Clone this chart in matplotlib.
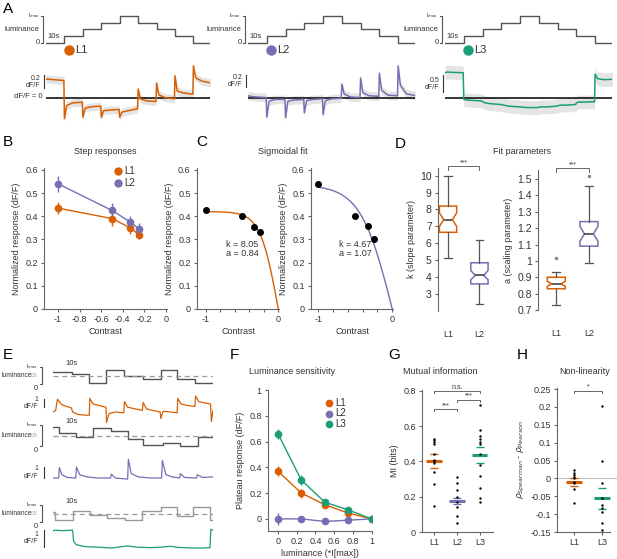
import numpy as np
import matplotlib.pyplot as plt
from matplotlib.lines import Line2D
from matplotlib.ticker import FuncFormatter

plt.rcParams['font.family'] = ['Liberation Sans', 'DejaVu Sans']
plt.rcParams['axes.unicode_minus'] = False

W, H = 617, 559
C1, C2, C3 = '#d95f02', '#7570b3', '#1b9e77'
AXC = '#666666'
TXT = '#333333'

# ---------------- data ----------------
# A: luminance staircase, mean responses (onset / early / mid / end of each step)
stair_edges = [0, 1, 2, 3, 4, 5, 6, 7, 8, 8.9]
stair_lum = [0, 0.25, 0.5, 0.75, 1, 0.75, 0.5, 0.25, 0]
step_frac = [0.0, 0.12, 0.45, 0.97]
a_l1 = [[0.28, 0.28, 0.27, 0.26], [-0.32, -0.12, -0.08, -0.07], [-0.3, -0.16, -0.14, -0.13],
        [-0.3, -0.2, -0.19, -0.18], [-0.3, -0.22, -0.2, -0.17], [0.13, -0.02, -0.05, -0.06],
        [0.22, 0.04, 0.0, -0.02], [0.33, 0.1, 0.07, 0.05], [0.48, 0.3, 0.25, 0.22]]
a_l2 = [[0.03, 0.02, 0.01, 0.0], [-0.32, -0.06, -0.03, -0.03], [-0.33, -0.06, -0.04, -0.03],
        [-0.25, -0.05, -0.03, -0.02], [-0.28, -0.05, -0.02, -0.01], [0.22, 0.06, 0.01, 0.0],
        [0.32, 0.08, 0.03, 0.02], [0.4, 0.12, 0.04, 0.03], [0.52, 0.2, 0.06, 0.03]]
a_l3 = [[0.72, 0.74, 0.73, 0.72], [-0.05, -0.07, -0.08, -0.1], [-0.12, -0.15, -0.18, -0.2],
        [-0.2, -0.22, -0.25, -0.27], [-0.27, -0.28, -0.29, -0.29], [-0.28, -0.27, -0.27, -0.25],
        [-0.24, -0.22, -0.22, -0.2], [-0.15, -0.13, -0.13, -0.12], [0.68, 0.55, 0.52, 0.53]]
a_spread = [0.06, 0.07, 0.2]
a_scale = [0.2, 0.2, 0.5]

# B / C: step responses vs contrast
contrast = [-1, -0.5, -0.33, -0.25]
b_l1 = [0.435, 0.39, 0.35, 0.32]
b_l1_err = [0.025, 0.03, 0.025, 0.02]
b_l2 = [0.54, 0.425, 0.375, 0.345]
b_l2_err = [0.035, 0.03, 0.025, 0.025]
c_l1 = [0.425, 0.40, 0.355, 0.33]
c_l2 = [0.54, 0.40, 0.36, 0.30]
fit_k = [8.05, 4.67]
fit_a = [0.84, 1.07]

# D: fit parameter box stats (whislo, q1, cilo, med, cihi, q3, whishi, fliers)
d_k = [[5.15, 6.65, 7.0, 7.4, 7.8, 8.2, 10.0, []],
       [2.4, 3.6, 3.85, 4.1, 4.4, 4.85, 6.2, []]]
d_a = [[0.73, 0.83, 0.845, 0.86, 0.875, 0.90, 0.93, [1.02]],
       [0.99, 1.09, 1.12, 1.165, 1.21, 1.24, 1.46, [1.52]]]

# E: luminance sequences and responses (time in s)
e1_edges = [0, 10.5, 20.5, 30, 40, 50.5, 60.5, 70, 80, 90]
e1_lum = [0.7, 0.6, 0.05, 0.82, 0.47, 0.3, 0.82, 0.3, 0.05]
e1_t = [0, 1.5, 2.5, 5, 9, 10.4, 11, 14, 18, 20.4, 20.7, 22.5, 26, 29.8, 30.1, 31.5, 35, 39.8,
        40.2, 42, 46, 50.3, 50.7, 52.5, 56, 60.3, 60.6, 62, 66, 69.8, 70.2, 72, 76, 79.8, 80.2,
        82, 86, 88.6, 89.1, 90]
e1_r = [0, 0.2, 1.6, 0.9, 0.6, 0.5, 0.0, -0.3, -0.4, -0.4, 1.7, 1.0, 0.8, 0.6, -1.3, -0.2, 0.0,
        -0.1, 1.3, 0.6, 0.4, 0.2, 1.2, 0.4, 0.2, 0.0, -0.8, 0.1, 0.0, -0.1, 1.7, 1.0, 0.8, 0.7,
        2.0, 1.3, 1.1, 1.0, -1.2, 0.2]
e2_edges = [0, 3.4, 13, 22.6, 32.8, 42.4, 50.8, 61.6, 71.2, 81.4, 90]
e2_lum = [0.9, 0.6, 0.45, 0.85, 0.7, 0.35, 0.05, 0.15, 0.0, 0.45]
e2_t = [0, 3.2, 3.6, 5, 8, 12.8, 13.2, 15, 19, 25, 32.4, 32.8, 35, 42, 42.4, 44, 48, 55, 61.1,
        61.5, 63.5, 67, 71.2, 71.6, 74, 80.8, 81.2, 84, 90]
e2_r = [0, 0, 0.95, 0.3, 0.05, 0.0, 1.0, 0.3, 0.1, 0.0, 0.0, 0.35, 0.0, -0.1, 1.7, 0.4, 0.1, 0.0,
        0.0, 1.6, 0.3, 0.1, 0.0, 0.4, 0.05, 0.0, 0.3, 0.05, 0.1]
e3_edges = [0, 1, 11.3, 20.8, 30.4, 40.5, 50.1, 60.8, 69.8, 78.8, 88.4, 90]
e3_lum = [0.6, 0.1, 0.65, 0.4, 0.25, 0.1, 0.65, 0.9, 0.35, 0.9, 0.1]
e3_t = [0, 1, 5, 11, 11.6, 13, 18, 25, 33, 38, 42, 47, 55, 62, 66, 70, 78, 85, 88.3, 88.8, 90]
e3_r = [1.0, 1.05, 1.02, 1.05, 0.4, 0.2, 0.08, 0.05, 0.0, 0.07, 0.12, 0.05, 0.02, 0.06, 0.1,
        0.04, 0.0, 0.0, 0.02, 1.1, 1.05]

# F: plateau response vs luminance
lum_levels = [0, 0.25, 0.5, 0.75, 1]
f_l1 = [0.37, 0.20, 0.11, 0.045, 0.0]
f_l1_err = [0.04, 0.035, 0.02, 0.015, 0.01]
f_l2 = [0.0, 0.0, -0.02, -0.01, 0.0]
f_l2_err = [0.045, 0.02, 0.015, 0.01, 0.01]
f_l3 = [0.66, 0.30, 0.13, 0.07, 0.0]
f_l3_err = [0.04, 0.04, 0.02, 0.015, 0.01]

# G: mutual information (individual flies, mean, sem)
g_l1 = [0.53, 0.52, 0.51, 0.50, 0.44, 0.41, 0.40, 0.39, 0.34, 0.27, 0.15]
g_l2 = [0.31, 0.28, 0.24, 0.20, 0.17, 0.14, 0.09, 0.05]
g_l3 = [0.72, 0.58, 0.545, 0.53, 0.51, 0.50, 0.44, 0.38, 0.32, 0.25, 0.19, 0.17]
g_mean = [0.40, 0.175, 0.436]
g_sem = [0.04, 0.018, 0.045]

# H: non-linearity
h_l1 = [0.023, 0.016, 0.009, 0.004, 0.0, -0.01, -0.012, -0.03, -0.07]
h_l3 = [0.204, 0.049, -0.014, -0.056, -0.075, -0.082, -0.093, -0.126, -0.145]
h_mean = [-0.009, -0.056]
h_sem = [0.011, 0.029]

# ---------------- helpers ----------------
fig = plt.figure(figsize=(W / 100, H / 100), dpi=100)


def px_axes(x0, y0, x1, y1):
    return fig.add_axes([x0 / W, 1 - y1 / H, (x1 - x0) / W, (y1 - y0) / H])


def ftext(x, y, s, **kw):
    kw.setdefault('fontsize', 6.5)
    kw.setdefault('color', TXT)
    fig.text(x / W, 1 - y / H, s, **kw)


def fdot(x, y, c, ms=6):
    fig.add_artist(Line2D([x / W], [1 - y / H], marker='o', ms=ms, color=c, lw=0,
                          transform=fig.transFigure))


def style(ax, bottom=True):
    for s in ['top', 'right']:
        ax.spines[s].set_visible(False)
    for s in ['left', 'bottom']:
        ax.spines[s].set_color(AXC)
        ax.spines[s].set_linewidth(0.8)
    if not bottom:
        ax.spines['bottom'].set_visible(False)
    ax.tick_params(labelsize=6.5, length=2.5, width=0.8, color=AXC, labelcolor=TXT, pad=2)
    ax.yaxis.set_major_formatter(FuncFormatter(lambda v, p: '%g' % round(v, 3)))
    ax.patch.set_alpha(0)


def bracket(ax, x0, x1, y, h, label, dy):
    ax.plot([x0, x0, x1, x1], [y - h, y, y, y - h], color=AXC, lw=0.7, clip_on=False)
    ax.text((x0 + x1) / 2, y + dy, label, ha='center', va='bottom', fontsize=5, color=TXT)


def step_trace(seg):
    t = [i + f for i in range(len(seg)) for f in step_frac]
    v = [x for s in seg for x in s]
    return np.array(t), np.array(v)


# ---------------- A ----------------
ftext(3, 9, 'A', fontsize=11, color='k', va='center')
cols = [(46, 210, a_l1, C1, 'L1', 65), (248, 415, a_l2, C2, 'L2', 60), (445, 612, a_l3, C3, 'L3', 34)]
for j, (x0, x1, seg, col, name, ppu) in enumerate(cols):
    st = px_axes(x0, 12.8, x1, 46.2)
    st.step(stair_edges, stair_lum + [stair_lum[-1]], where='post', color='#555', lw=1)
    st.set_xlim(0, 8.9)
    st.set_ylim(-0.12, 1.12)
    st.axis('off')
    st.plot([-0.28, -0.16, -0.16, -0.28], [1, 1, 0, 0], color='#555', lw=0.8, clip_on=False)
    st.text(-0.35, 1.0, 'I$_{max}$', fontsize=4, ha='right', va='center', color=TXT)
    st.text(-0.35, 0.5, 'luminance', fontsize=5.5, ha='right', va='center', color=TXT)
    st.text(-0.35, 0.0, '0', fontsize=5.5, ha='right', va='center', color=TXT)
    st.text(0.08, 0.12, '10s', fontsize=5.5, ha='left', va='bottom', color=TXT)

    rs = px_axes(x0, 58, x1, 128)
    t, v = step_trace(seg)
    sp = a_spread[j]
    rs.fill_between(t, v - sp, v + sp, color='#e4e4e4', lw=0)
    rs.axhline(0, color='k', lw=1.1)
    rs.plot(t, v, color=col, lw=1.1)
    rs.set_xlim(0, 8.9)
    rs.set_ylim(-30 / ppu, 39 / ppu)
    rs.axis('off')
    sb = a_scale[j]
    y_top = (97 - 75) / ppu
    rs.plot([-0.12, -0.12], [y_top - sb, y_top], color='#333', lw=0.8, clip_on=False)
    rs.text(-0.3, y_top - sb / 2, '%g\ndF/F' % sb, fontsize=5, ha='right', va='center',
            color=TXT, linespacing=1.0)
    fdot(x0 + 23, 50, col, ms=6.5)
    ftext(x0 + 29, 50, name, fontsize=8, va='center')
ftext(43, 97, 'dF/F = 0', fontsize=5.5, ha='right', va='center')

# ---------------- B ----------------
ftext(3, 142, 'B', fontsize=11, color='k', va='center')
ftext(105, 151, 'Step responses', ha='center', va='center')
ax = px_axes(44, 168, 167, 309)
ax.errorbar(contrast, b_l1, yerr=b_l1_err, color=C1, marker='o', ms=4.5, lw=1, capsize=0)
ax.errorbar(contrast, b_l2, yerr=b_l2_err, color=C2, marker='o', ms=4.5, lw=1, capsize=0)
ax.set_xlim(-1.13, 0.01)
ax.set_ylim(0, 0.608)
ax.set_xticks([-1, -0.8, -0.6, -0.4, -0.2, 0])
ax.set_yticks([0, 0.1, 0.2, 0.3, 0.4, 0.5, 0.6])
style(ax)
ax.xaxis.set_major_formatter(FuncFormatter(lambda v, p: '%g' % round(v, 3)))
ax.set_xlabel('Contrast', fontsize=6.5, color=TXT, labelpad=2)
ax.set_ylabel('Normalized response (dF/F)', fontsize=6.5, color=TXT, labelpad=3)
fdot(118, 171, C1, ms=5)
ftext(124, 171, 'L1', fontsize=7, va='center')
fdot(118, 183, C2, ms=5)
ftext(124, 183, 'L2', fontsize=7, va='center')

# ---------------- C ----------------
ftext(196, 142, 'C', fontsize=11, color='k', va='center')
ftext(283, 152, 'Sigmoidal fit', ha='center', va='center')
xs = np.linspace(-1, 0, 200)
for (x0, xl, yv, col, k, a) in [(197, -1.125, c_l1, C1, fit_k[0], fit_a[0]),
                                (311, -1.10, c_l2, C2, fit_k[1], fit_a[1])]:
    ax = px_axes(x0, 168, x0 + 82, 309)
    ax.plot(xs, a / 2 * np.tanh(-k * xs / 2), color=col, lw=1)
    ax.plot(contrast, yv, 'o', color='k', ms=4)
    ax.set_xlim(xl, 0.01)
    ax.set_ylim(0, 0.608)
    ax.set_xticks([-1, -0.8, -0.6, -0.4, -0.2, 0])
    ax.set_xticklabels(['-1', '', '', '', '', '0'])
    ax.set_yticks([0, 0.1, 0.2, 0.3, 0.4, 0.5, 0.6])
    style(ax)
    ax.set_xlabel('Contrast', fontsize=6.5, color=TXT, labelpad=2)
    ax.set_ylabel('Normalized response (dF/F)', fontsize=6.5, color=TXT, labelpad=3)
    ax.text(-0.5, 0.26, 'k = %.2f\na = %.2f' % (k, a), fontsize=6.5, color=TXT,
            ha='center', va='center', linespacing=0.95)

# ---------------- D ----------------
ftext(395, 144, 'D', fontsize=11, color='k', va='center')
ftext(522, 152, 'Fit parameters', ha='center', va='center')


def boxes(ax, stats):
    bx = []
    for s in stats:
        bx.append(dict(whislo=s[0], q1=s[1], cilo=s[2], med=s[3], cihi=s[4], q3=s[5],
                       whishi=s[6], fliers=s[7]))
    art = ax.bxp(bx, positions=[1, 2], widths=0.55, shownotches=True, patch_artist=True,
                 showfliers=True,
                 whiskerprops=dict(color='#555', lw=0.9), capprops=dict(color='#555', lw=0.9),
                 medianprops=dict(color='#444', lw=1.2),
                 flierprops=dict(marker='o', ms=1.5, mfc='#888', mec='#888'))
    for b, c in zip(art['boxes'], [C1, C2]):
        b.set_facecolor('white')
        b.set_edgecolor(c)
        b.set_linewidth(1.1)
    for cap in art['caps']:
        xd = cap.get_xdata()
        m = np.mean(xd)
        cap.set_xdata([m - 0.12, m + 0.12])


ax = px_axes(438, 168, 492, 311)
boxes(ax, d_k)
ax.set_xlim(0.68, 2.4)
ax.set_ylim(2, 10.45)
ax.set_yticks(range(3, 11))
style(ax, bottom=False)
ax.set_xticks([1, 2])
ax.set_xticklabels(['L1', 'L2'])
ax.tick_params(axis='x', length=0, pad=14)
ax.tick_params(axis='y', labelsize=7.5)
ax.set_ylabel('k (slope parameter)', fontsize=6.5, color=TXT, labelpad=3)
bracket(ax, 1, 2, 10.55, 0.2, '***', 0.0)

ax = px_axes(538, 170, 602, 310)
boxes(ax, d_a)
ax.set_xlim(0.44, 2.4)
ax.set_ylim(0.7, 1.555)
ax.set_yticks([0.7, 0.8, 0.9, 1.0, 1.1, 1.2, 1.3, 1.4, 1.5])
style(ax, bottom=False)
ax.set_xticks([1, 2])
ax.set_xticklabels(['L1', 'L2'])
ax.tick_params(axis='x', length=0, pad=14)
ax.tick_params(axis='y', labelsize=7.5)
ax.set_ylabel('a (scaling parameter)', fontsize=6.5, color=TXT, labelpad=3)
bracket(ax, 1, 2, 1.565, 0.02, '***', 0.0)

# ---------------- E ----------------
ftext(3, 355, 'E', fontsize=11, color='k', va='center')
rows = [(364.5, 386.5, e1_edges, e1_lum, '#555', e1_t, e1_r, C1, 390, 428, 412, 8, 1.6),
        (421.5, 449.5, e2_edges, e2_lum, '#555', e2_t, e2_r, C2, 452, 490, 478, 11, 1.0),
        (502.5, 524.5, e3_edges, e3_lum, '#999', e3_t, e3_r, C3, 522, 554, 548, 17, 1.06)]
for (sy0, sy1, edges, lum, lc, tt, rr, col, ry0, ry1, zero, ppu, sbt) in rows:
    st = px_axes(53, sy0, 213, sy1)
    st.step(edges, lum + [lum[-1]], where='post', color=lc, lw=1)
    st.axhline(0.5, color='#999', lw=0.9, ls=(0, (4, 3)))
    st.set_xlim(0, 90)
    st.set_ylim(-0.15, 1.15)
    st.axis('off')
    st.plot([-7.5, -6.2, -6.2, -7.5], [1, 1, 0, 0], color='#555', lw=0.8, clip_on=False)
    st.text(-8.5, 1.0, 'I$_{max}$', fontsize=4, ha='right', va='center', color=TXT)
    st.text(-8.5, 0.5, '0.5', fontsize=3.5, ha='right', va='center', color='#999')
    st.text(-8.5, -0.05, '0', fontsize=5.5, ha='right', va='top', color=TXT)
    st.text(-29.0, 0.5, 'luminance', fontsize=4.8, ha='left', va='center', color=TXT)
    st.text(7, 1.0, '10s', fontsize=5.5, ha='left', va='bottom', color=TXT)

    rs = px_axes(53, ry0, 213, ry1)
    rs.plot(tt, rr, color=col, lw=0.9)
    rs.set_xlim(0, 90)
    rs.set_ylim(-(ry1 - zero) / ppu, (zero - ry0) / ppu)
    rs.axis('off')
    rs.plot([-5, -5], [sbt - 1, sbt], color='#333', lw=0.8, clip_on=False)
    rs.text(-8, sbt - 0.5, '1\ndF/F', fontsize=5, ha='right', va='center', color=TXT,
            linespacing=1.0)

# ---------------- F ----------------
ftext(230, 355, 'F', fontsize=11, color='k', va='center')
ftext(292, 372, 'Luminance sensitivity', ha='center', va='center')
ax = px_axes(268, 390, 372, 531)
for yv, ye, col in [(f_l1, f_l1_err, C1), (f_l2, f_l2_err, C2), (f_l3, f_l3_err, C3)]:
    ax.errorbar(lum_levels, yv, yerr=ye, color=col, marker='o', ms=4.5, lw=1, capsize=0)
ax.set_xlim(-0.107, 1.005)
ax.set_ylim(-0.094, 1.0)
ax.set_xticks([0, 0.2, 0.4, 0.6, 0.8, 1])
ax.set_yticks([0, 0.2, 0.4, 0.6, 0.8, 1])
style(ax)
ax.xaxis.set_major_formatter(FuncFormatter(lambda v, p: '%g' % round(v, 3)))
ax.set_xlabel('luminance (*I[max])', fontsize=6.5, color=TXT, labelpad=2)
ax.set_ylabel('Plateau response (dF/F)', fontsize=6.5, color=TXT, labelpad=3)
for i, (c, n) in enumerate([(C1, 'L1'), (C2, 'L2'), (C3, 'L3')]):
    fdot(329, 403 + 10.5 * i, c, ms=4.5)
    ftext(335, 403 + 10.5 * i, n, fontsize=7, va='center')

# ---------------- G ----------------
ftext(388, 355, 'G', fontsize=11, color='k', va='center')
ftext(440, 372, 'Mutual information', ha='center', va='center')
ax = px_axes(422, 390, 493, 532)
for i, (vals, col) in enumerate([(g_l1, C1), (g_l2, C2), (g_l3, C3)]):
    x = i + 1
    ax.hlines(g_mean[i], x - 0.33, x + 0.33, color=col, lw=2.2)
    ax.hlines([g_mean[i] - g_sem[i], g_mean[i] + g_sem[i]], x - 0.17, x + 0.17, color=col, lw=1)
    ax.scatter([x] * len(vals), vals, s=3, color='k', zorder=3, lw=0)
ax.set_xlim(0.48, 3.57)
ax.set_ylim(0, 0.805)
ax.set_xticks([1, 2, 3])
ax.set_xticklabels(['L1', 'L2', 'L3'])
ax.set_yticks([0, 0.2, 0.4, 0.6, 0.8])
style(ax)
ax.set_ylabel('MI (bits)', fontsize=6.5, color=TXT, labelpad=3)
bracket(ax, 1, 2, 0.697, 0.012, '***', 0.0)
bracket(ax, 2, 3, 0.75, 0.012, '***', 0.0)
bracket(ax, 1, 3, 0.80, 0.012, 'n.s.', 0.0)

# ---------------- H ----------------
ftext(517, 355, 'H', fontsize=11, color='k', va='center')
ftext(585, 372, 'Non-linearity', ha='center', va='center')
ax = px_axes(557, 388, 617, 532)
ax.axhline(0, color='#bbb', lw=0.8)
for i, (vals, col) in enumerate([(h_l1, C1), (h_l3, C3)]):
    x = i + 1
    ax.hlines(h_mean[i], x - 0.3, x + 0.3, color=col, lw=2.2)
    ax.hlines([h_mean[i] - h_sem[i], h_mean[i] + h_sem[i]], x - 0.15, x + 0.15, color=col, lw=1)
    ax.scatter([x] * len(vals), vals, s=3, color='k', zorder=3, lw=0)
ax.set_xlim(0.39, 2.54)
ax.set_ylim(-0.15, 0.253)
ax.set_xticks([1, 2])
ax.set_xticklabels(['L1', 'L3'])
ax.set_yticks([-0.15, -0.1, -0.05, 0, 0.05, 0.1, 0.15, 0.2, 0.25])
style(ax)
ax.spines['bottom'].set_bounds(0.39, 2.3)
ax.set_ylabel(r'$\rho_{Spearman}$ - $\rho_{Pearson}$', fontsize=6.5, color=TXT, labelpad=2)
bracket(ax, 1, 2, 0.245, 0.006, '*', 0.0)

fig.savefig('out.png', dpi=100)
